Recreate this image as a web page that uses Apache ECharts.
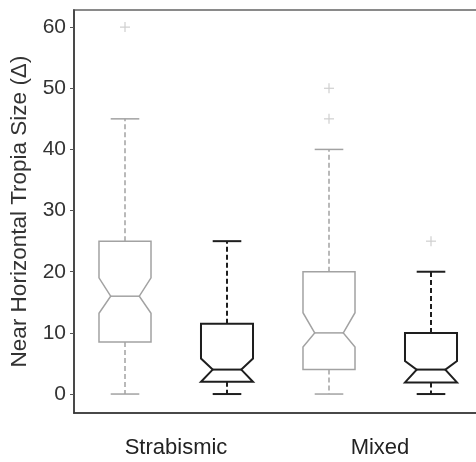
<!DOCTYPE html>
<html>
<head>
<meta charset="utf-8">
<script src="https://cdn.jsdelivr.net/npm/echarts@6/dist/echarts.min.js"></script>
<style>
html,body{margin:0;padding:0;background:#fff;}
#chart{width:476px;height:462px;}
</style>
</head>
<body>
<div id="chart"></div>
<script>
// ---- data ----
const boxLabels = ['Strabismic-1', 'Strabismic-2', 'Mixed-1', 'Mixed-2'];
const groupLabels = ['Strabismic', 'Mixed'];
const whiskerLow = [0, 0, 0, 0];
const q1 = [8.5, 2, 4, 2];
const notchLow = [13.2, 2, 7.7, 1.9];
const median = [16, 4, 10, 4];
const notchHigh = [19, 5.8, 13.3, 5.4];
const q3 = [25, 11.5, 20, 10];
const whiskerHigh = [45, 25, 40, 20];
const outlierBox = [0, 2, 2, 3];
const outlierValue = [60, 45, 50, 25];
const yTicks = [0, 10, 20, 30, 40, 50, 60];
const yLabel = 'Near Horizontal Tropia Size (\u0394)';

// ---- styles ----
const boxColors = ['#a2a2a2', '#1e1e1e', '#a2a2a2', '#1e1e1e'];
const boxWidths = [1.5, 2, 1.5, 2];
const FONT = 'Liberation Sans, Arial, sans-serif';

const boxData = boxLabels.map((_, i) => [i, whiskerLow[i], q1[i], notchLow[i], median[i], notchHigh[i], q3[i], whiskerHigh[i]]);
const outlierData = outlierBox.map((b, i) => [b, outlierValue[i]]);

function renderBox(params, api) {
  const i = api.value(0);
  const c = api.coord([i, 0]);
  const x = c[0];
  const band = api.size([1, 0])[0];
  const hw = band * 0.255;
  const nw = hw * 0.55;
  const Y = v => api.coord([i, v])[1];
  const lo = Y(api.value(1)), b1 = Y(api.value(2)), nl = Y(api.value(3)), md = Y(api.value(4)),
        nh = Y(api.value(5)), b3 = Y(api.value(6)), hi = Y(api.value(7));
  const bottom = Math.max(b1, nl);
  const color = boxColors[i];
  const lw = boxWidths[i];
  const capW = hw * 0.55;
  const st = {stroke: color, lineWidth: lw, fill: null};
  const dash = {stroke: color, lineWidth: lw, fill: null, lineDash: [5, 3]};
  const children = [
    {type: 'polygon', shape: {points: [
      [x - hw, b3], [x + hw, b3], [x + hw, nh], [x + nw, md], [x + hw, nl], [x + hw, bottom],
      [x - hw, bottom], [x - hw, nl], [x - nw, md], [x - hw, nh]
    ]}, style: {stroke: color, lineWidth: lw, fill: '#fff'}},
    {type: 'line', shape: {x1: x - nw, y1: md, x2: x + nw, y2: md}, style: st},
    {type: 'line', shape: {x1: x, y1: b3, x2: x, y2: hi}, style: dash},
    {type: 'line', shape: {x1: x, y1: bottom, x2: x, y2: lo}, style: dash},
    {type: 'line', shape: {x1: x - capW, y1: hi, x2: x + capW, y2: hi}, style: st},
    {type: 'line', shape: {x1: x - capW, y1: lo, x2: x + capW, y2: lo}, style: st}
  ];
  return {type: 'group', children: children};
}

function renderOutlier(params, api) {
  const p = api.coord([api.value(0), api.value(1)]);
  const s = 5;
  const st = {stroke: '#cfcfcf', lineWidth: 1.2, fill: null};
  return {type: 'group', children: [
    {type: 'line', shape: {x1: p[0] - s, y1: p[1], x2: p[0] + s, y2: p[1]}, style: st},
    {type: 'line', shape: {x1: p[0], y1: p[1] - s, x2: p[0], y2: p[1] + s}, style: st}
  ]};
}

const chart = echarts.init(document.getElementById('chart'), null, {renderer: 'canvas'});
chart.setOption({
  backgroundColor: '#fff',
  animation: false,
  grid: {left: 74, right: -6, top: 10, bottom: 49, containLabel: false, outerBoundsMode: 'none',
         show: true, borderColor: '#8a8a8a', borderWidth: 2, backgroundColor: 'transparent'},
  xAxis: [
    {type: 'category', data: boxLabels, gridIndex: 0,
     axisLine: {show: true, onZero: false, lineStyle: {color: '#333', width: 1.5}},
     axisTick: {show: false}, axisLabel: {show: false}, splitLine: {show: false}},
    {type: 'category', data: groupLabels, gridIndex: 0, position: 'bottom',
     axisLine: {show: false}, axisTick: {show: false}, splitLine: {show: false},
     axisLabel: {show: true, margin: 24, fontSize: 22, color: '#222', fontFamily: FONT}}
  ],
  yAxis: {
    type: 'value', min: -3.1, max: 62.8,
    name: yLabel, nameLocation: 'middle', nameGap: 41,
    nameTextStyle: {fontSize: 22.5, color: '#333', fontFamily: FONT},
    axisLine: {show: true, lineStyle: {color: '#333', width: 1.5}},
    axisTick: {show: true, length: 4, customValues: yTicks, lineStyle: {color: '#555'}},
    axisLabel: {show: true, customValues: yTicks, margin: 8, fontSize: 21, color: '#333', fontFamily: FONT},
    splitLine: {show: false}
  },
  series: [
    {type: 'custom', xAxisIndex: 0, renderItem: renderOutlier, data: outlierData, z: 2},
    {type: 'custom', xAxisIndex: 0, renderItem: renderBox, data: boxData, z: 3,
     encode: {x: 0, y: [1, 2, 3, 4, 5, 6, 7]}}
  ]
});
</script>
</body>
</html>
